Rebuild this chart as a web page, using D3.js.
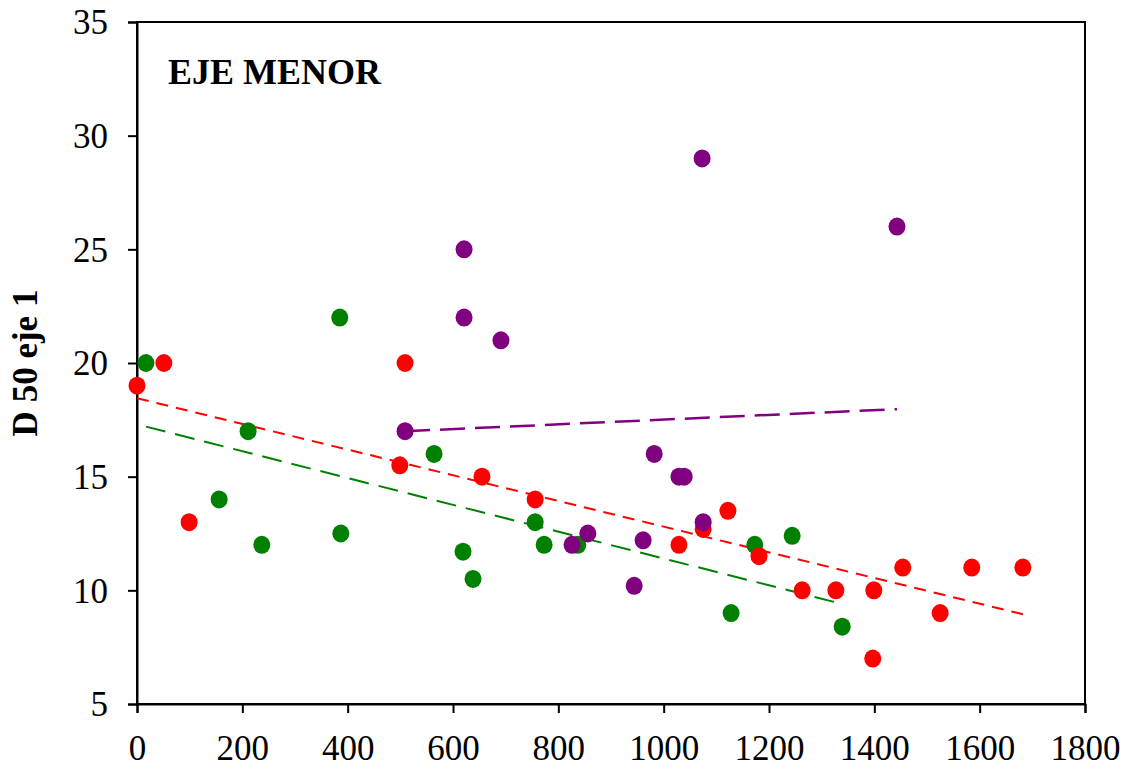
<!DOCTYPE html>
<html>
<head>
<meta charset="utf-8">
<script src="https://cdn.jsdelivr.net/npm/d3@7"></script>
<style>
  body { margin: 0; background: #fff; }
  svg text { font-family: "Liberation Serif", "Times New Roman", serif; }
</style>
</head>
<body>
<svg width="1126" height="772"></svg>
<script>
// series: [x, D50]
var greenPts = [
  [17, 20], [156, 14], [211, 17], [237, 12], [385, 22], [387, 12.5],
  [564, 16], [619, 11.7], [638, 10.5], [756, 13], [773, 12], [837, 12],
  [1128, 9], [1173, 12], [1244, 12.4], [1339, 8.4]
];
var redPts = [
  [0, 19], [51, 20], [99, 13], [499, 15.5], [509, 20], [655, 15],
  [756, 14], [1029, 12], [1075, 12.7], [1122, 13.5], [1181, 11.5],
  [1263, 10], [1327, 10], [1397, 7], [1399, 10], [1454, 11],
  [1525, 9], [1585, 11], [1682, 11]
];
var purplePts = [
  [509, 17], [621, 25], [621, 22], [691, 21], [826, 12], [856, 12.5],
  [944, 10.2], [961, 12.2], [982, 16], [1029, 15], [1039, 15],
  [1073, 29], [1075, 13], [1443, 26]
];
// trend lines as drawn: [x, y] at each end
var greenTrend = [[17, 17.2], [1339, 9.4]];
var redTrend = [[0, 18.45], [1682, 8.95]];
var purpleTrend = [[509, 17.0], [1443, 17.97]];

var xTicks = [0, 200, 400, 600, 800, 1000, 1200, 1400, 1600, 1800];
var yTicks = [5, 10, 15, 20, 25, 30, 35];

(function() {
    var svg = d3.select("svg");
    var pl = 137, pr = 1085, pt = 22, pb = 704;

    var x = d3.scaleLinear().domain([0, 1800]).range([pl, pr]);
    var y = d3.scaleLinear().domain([5, 35]).range([pb, pt]);

    // frame
    svg.append("rect")
        .attr("x", pl).attr("y", pt)
        .attr("width", pr - pl).attr("height", pb - pt)
        .attr("fill", "none").attr("stroke", "#000").attr("stroke-width", 2);

    var xAxis = svg.append("g")
        .attr("transform", "translate(0," + pb + ")")
        .call(d3.axisBottom(x).tickValues(xTicks).tickFormat(d3.format("d"))
            .tickSize(9).tickPadding(22));
    var yAxis = svg.append("g")
        .attr("transform", "translate(" + pl + ",0)")
        .call(d3.axisLeft(y).tickValues(yTicks).tickFormat(d3.format("d"))
            .tickSize(9).tickPadding(20));

    [xAxis, yAxis].forEach(function(g) {
        g.attr("font-size", 35).attr("font-family", "'Liberation Serif', serif");
        g.select(".domain").attr("stroke-width", 2);
        g.selectAll(".tick line").attr("stroke-width", 2);
        g.selectAll("text").attr("fill", "#000");
    });
    yAxis.selectAll("text").attr("dy", "0.34em");

    var line = d3.line()
        .x(function(d) { return x(d[0]); })
        .y(function(d) { return y(d[1]); });

    function trend(data, color, dash, w) {
        svg.append("path")
            .datum(data)
            .attr("d", line)
            .attr("fill", "none")
            .attr("stroke", color)
            .attr("stroke-width", w)
            .attr("stroke-dasharray", dash);
    }

    function dots(data, color) {
        svg.append("g").selectAll("ellipse")
            .data(data)
            .enter().append("ellipse")
            .attr("cx", function(d) { return x(d[0]); })
            .attr("cy", function(d) { return y(d[1]); })
            .attr("rx", 8.5)
            .attr("ry", 9)
            .attr("fill", color);
    }

    trend(greenTrend, "#008000", "20,10", 2);
    trend(redTrend, "#ff0000", "12,8", 2);
    trend(purpleTrend, "#800080", "25,10", 2.5);

    dots(greenPts, "#008000");
    dots(redPts, "#ff0000");
    dots(purplePts, "#800080");

    svg.append("text")
        .attr("x", 168).attr("y", 84)
        .attr("font-size", 36)
        .attr("font-weight", "bold")
        .text("EJE MENOR");

    svg.append("text")
        .attr("transform", "translate(37," + ((pt + pb) / 2) + ") rotate(-90)")
        .attr("text-anchor", "middle")
        .attr("font-size", 35)
        .attr("font-weight", "bold")
        .text("D 50 eje 1");
})();
</script>
</body>
</html>
